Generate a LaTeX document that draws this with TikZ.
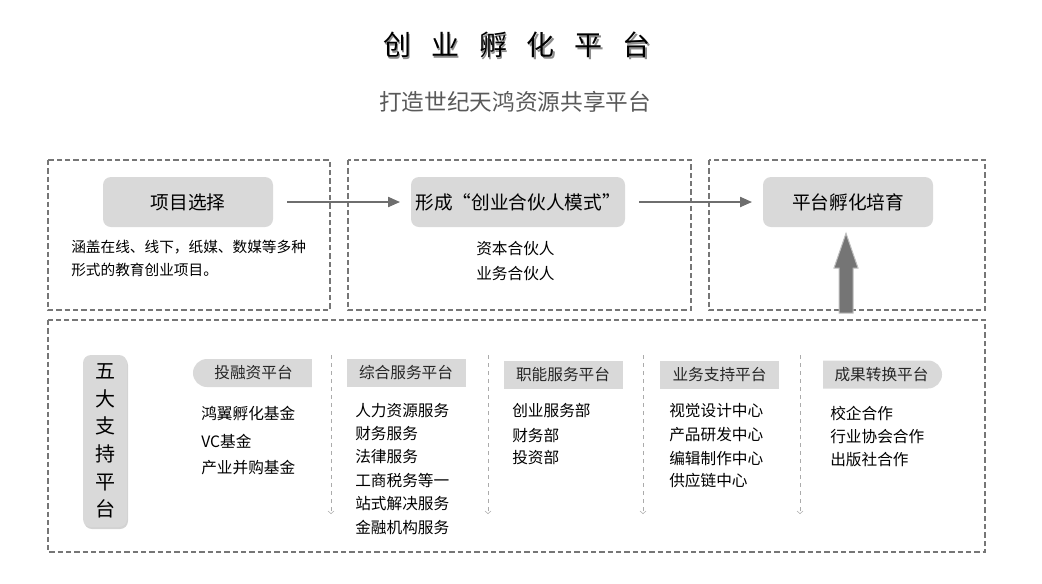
\documentclass[tikz,border=0pt]{standalone}
\usepackage{fontspec}
\setmainfont{Noto Sans CJK SC}
\usetikzlibrary{arrows.meta,shapes.misc,shadows,calc}

\definecolor{boxgray}{HTML}{D9D9D9}
\definecolor{linegray}{HTML}{767676}
\definecolor{arrowgray}{HTML}{6E6E6E}
\definecolor{sepgray}{HTML}{ABABAB}
\definecolor{subgray}{HTML}{595959}

\tikzstyle{frame}=[draw=linegray,line width=1.5pt,dash pattern=on 4pt off 2.25pt]
\tikzstyle{stage}=[fill=boxgray,rounded corners=6pt,minimum height=37.5pt,
    inner sep=0pt,font=\fontsize{14pt}{16pt}\selectfont]
\tikzstyle{flow}=[draw=arrowgray,line width=1.5pt,-{Triangle[length=9pt,width=7.5pt]}]
\tikzstyle{header}=[fill=boxgray,minimum width=89.25pt,minimum height=21pt,
    inner sep=0pt,text=black!85,font=\fontsize{11.75pt}{13pt}\selectfont]
\tikzstyle{item}=[anchor=west,inner sep=0pt,font=\fontsize{11.75pt}{13pt}\selectfont]
\tikzstyle{separator}=[draw=sepgray,thin,dashed,-{Straight Barb[length=2pt,width=4.5pt]}]
\tikzstyle{big arrow}=[fill=arrowgray!95,draw=black!25,line width=0.75pt]
\newcommand{\platform}[4][]{
    \node[header,#1] at (#2) (#3) {#4};
}

\begin{document}
\begin{tikzpicture}[x=0.75pt,y=-0.75pt]
    \useasboundingbox (0,0) rectangle (1042,583);
    %
    \node[text=black!45,font=\fontsize{21pt}{24pt}\selectfont] at (518.5,46.5) (title shadow)
        {创\hspace{0.71em}业\hspace{0.71em}孵\hspace{0.71em}化\hspace{0.71em}平\hspace{0.71em}台};
    \node[font=\fontsize{21pt}{24pt}\selectfont] at (517,45) (title)
        {创\hspace{0.71em}业\hspace{0.71em}孵\hspace{0.71em}化\hspace{0.71em}平\hspace{0.71em}台};
    \node[text=subgray,font=\fontsize{17pt}{20pt}\selectfont] at (515,102) (subtitle)
        {打造世纪天鸿资源共享平台};
    %
    \draw[frame] (48,160) rectangle (330,310);
    \draw[frame] (348,160) rectangle (691,310);
    \draw[frame] (709,160) rectangle (985,310);
    \draw[frame] (48,320) rectangle (985,552);
    %
    \node[stage,minimum width=127.5pt] at (188,202) (select) {项目选择};
    \node[stage,minimum width=160.5pt] at (518,202) (partner) {形成“创业合伙人模式”};
    \node[stage,minimum width=127.5pt] at (848,202) (incubate) {平台孵化培育};
    \draw[flow,shorten <=10.5pt,shorten >=8pt] (select) -- (partner);
    \draw[flow,shorten <=10.5pt,shorten >=8pt] (partner) -- (incubate);
    %
    \node[item,align=left,font=\fontsize{11pt}{17.25pt}\selectfont] at (71,258.5) (select text)
        {涵盖在线、线下，纸媒、数媒等多种\\形式的教育创业项目。};
    \node[item] at (476,249) (capital) {资本合伙人};
    \node[item] at (476,274) (business) {业务合伙人};
    %
    \coordinate (lift) at (846,313);
    \draw[big arrow] ($(lift)+(-7,0)$) -- ++(0,-45) -- ++(-5,0)
        -- ($(incubate.south)+(-2,6)$) -- ($(lift)+(12,-45)$) -- ++(-5,0)
        -- ++(0,45) -- cycle;
    %
    \node[fill=boxgray,rounded corners=6pt,minimum width=33pt,minimum height=129pt,
        inner sep=0pt,align=center,font=\fontsize{15pt}{20.7pt}\selectfont,
        drop shadow={opacity=0.35,shadow xshift=0.75pt,shadow yshift=-1.5pt}]
        at (105,441) (support) {五\\大\\支\\持\\平\\台};
    %
    \platform[rounded rectangle,rounded rectangle right arc=none]{253.5,373}{finance}{投融资平台}
    \platform{406,373}{service}{综合服务平台}
    \platform{563,374.5}{function}{职能服务平台}
    \platform{719.5,374.5}{operation}{业务支持平台}
    \platform[rounded rectangle,rounded rectangle left arc=none]{881.5,374.5}{transfer}{成果转换平台}
    %
    \draw[separator] (331,355) -- (331,514);
    \draw[separator] (488,355) -- (488,514);
    \draw[separator] (643,355) -- (643,514);
    \draw[separator] (800,355) -- (800,514);
    %
    \node[item] at (201,414) (fund a) {鸿翼孵化基金};
    \node[item] at (201,441) (fund b) {VC基金};
    \node[item] at (201,468) (fund c) {产业并购基金};
    %
    \node[item] at (355,411) (service a) {人力资源服务};
    \node[item] at (355,434) (service b) {财务服务};
    \node[item] at (355,457) (service c) {法律服务};
    \node[item] at (355,481) (service d) {工商税务等一};
    \node[item] at (355,504) (service e) {站式解决服务};
    \node[item] at (355,527) (service f) {金融机构服务};
    %
    \node[item] at (512,411) (function a) {创业服务部};
    \node[item] at (512,435) (function b) {财务部};
    \node[item] at (512,458) (function c) {投资部};
    %
    \node[item] at (669,411) (operation a) {视觉设计中心};
    \node[item] at (669,435) (operation b) {产品研发中心};
    \node[item] at (669,458) (operation c) {编辑制作中心};
    \node[item] at (669,481) (operation d) {供应链中心};
    %
    \node[item] at (830,413) (transfer a) {校企合作};
    \node[item] at (830,437) (transfer b) {行业协会合作};
    \node[item] at (830,460) (transfer c) {出版社合作};
\end{tikzpicture}
\end{document}
